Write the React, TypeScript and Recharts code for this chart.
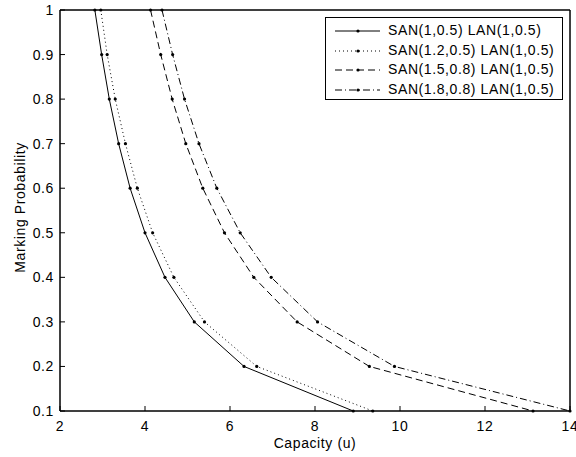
import { Legend, Line, LineChart, ReferenceArea, XAxis, YAxis } from "recharts"

// marking probability levels shared by every curve
const probability = [1.0, 0.9, 0.8, 0.7, 0.6, 0.5, 0.4, 0.3, 0.2, 0.1]

// capacity read for each probability level
const san1Lan1 = [2.82, 2.98, 3.16, 3.38, 3.65, 4.0, 4.47, 5.16, 6.33, 8.9]
const san12Lan1 = [2.96, 3.11, 3.3, 3.54, 3.82, 4.18, 4.68, 5.4, 6.63, 9.36]
const san15Lan1 = [4.13, 4.37, 4.64, 4.96, 5.36, 5.87, 6.56, 7.58, 9.28, 13.13]
const san18Lan1 = [4.4, 4.65, 4.93, 5.27, 5.69, 6.24, 6.97, 8.06, 9.87, 14.0]

const xTicks = [2, 4, 6, 8, 10, 12, 14]
const yTicks = [0.1, 0.2, 0.3, 0.4, 0.5, 0.6, 0.7, 0.8, 0.9, 1]

const toPoints = (xs: number[]) => xs.map((x, i) => ({ x, y: probability[i] }))

const series = [
    { name: "SAN(1,0.5) LAN(1,0.5)", data: toPoints(san1Lan1), dash: undefined },
    { name: "SAN(1.2,0.5) LAN(1,0.5)", data: toPoints(san12Lan1), dash: "1 3" },
    { name: "SAN(1.5,0.8) LAN(1,0.5)", data: toPoints(san15Lan1), dash: "7 4" },
    { name: "SAN(1.8,0.8) LAN(1,0.5)", data: toPoints(san18Lan1), dash: "7 3 1 3" },
]

const font = "'Liberation Sans', Arial, Helvetica, sans-serif"
const fontSize = 14
const spacing = 0.6

const BottomTick = (props: any) => {
    const { x, y, payload } = props
    return (
        <g>
            <line x1={x} y1={y} x2={x} y2={y - 5} stroke="#000" />
            <text x={x} y={y + 20} textAnchor="middle" fontSize={fontSize} fontFamily={font} letterSpacing={spacing} fill="#000">
                {payload.value}
            </text>
        </g>
    )
}

const LeftTick = (props: any) => {
    const { x, y, payload } = props
    return (
        <g>
            <line x1={x} y1={y} x2={x + 5} y2={y} stroke="#000" />
            <text x={x - 6} y={y + 5} textAnchor="end" fontSize={fontSize} fontFamily={font} letterSpacing={spacing} fill="#000">
                {payload.value}
            </text>
        </g>
    )
}

const TopTick = (props: any) => <line x1={props.x} y1={props.y} x2={props.x} y2={props.y + 5} stroke="#000" />

const RightTick = (props: any) => <line x1={props.x} y1={props.y} x2={props.x - 5} y2={props.y} stroke="#000" />

const LegendBox = () => (
    <div
        style={{
            width: 236,
            height: 78,
            border: "1px solid #000",
            background: "#fff",
            fontFamily: font,
            fontSize: fontSize,
            letterSpacing: spacing,
            paddingTop: 3,
            boxSizing: "content-box",
        }}
    >
        {series.map((s) => (
            <div key={s.name} style={{ display: "flex", alignItems: "center", height: 19.5 }}>
                <svg width={62} height={19} style={{ flex: "none" }}>
                    <line x1={9} y1={10} x2={54} y2={10} stroke="#000" strokeDasharray={s.dash} />
                    <circle cx={32} cy={10} r={1.6} fill="#000" />
                </svg>
                <span style={{ lineHeight: "19px", whiteSpace: "nowrap" }}>{s.name}</span>
            </div>
        ))}
    </div>
)

export default function App() {
    return (
        <div style={{ position: "absolute", left: 0, top: 0, background: "#fff" }}>
            <LineChart width={576} height={457} margin={{ top: 9, right: 5, left: 0, bottom: 0 }}>
                <XAxis
                    dataKey="x"
                    type="number"
                    domain={[2, 14]}
                    ticks={xTicks}
                    interval={0}
                    height={46}
                    tickSize={0}
                    tickMargin={0}
                    tickLine={false}
                    tick={BottomTick}
                    axisLine={{ stroke: "#000" }}
                    label={{
                        content: (p: any) => (
                            <text
                                x={p.viewBox.x + p.viewBox.width / 2}
                                y={p.viewBox.y + 37}
                                textAnchor="middle"
                                fontSize={fontSize}
                                fontFamily={font}
                                letterSpacing={spacing}
                                fill="#000"
                            >
                                Capacity (u)
                            </text>
                        ),
                    }}
                />
                <XAxis
                    xAxisId="top"
                    orientation="top"
                    type="number"
                    domain={[2, 14]}
                    ticks={xTicks}
                    interval={0}
                    height={1}
                    tickSize={0}
                    tickMargin={0}
                    tickLine={false}
                    tick={TopTick}
                    axisLine={{ stroke: "#000" }}
                />
                <YAxis
                    type="number"
                    domain={[0.1, 1]}
                    ticks={yTicks}
                    interval={0}
                    width={60}
                    tickSize={0}
                    tickMargin={0}
                    tickLine={false}
                    tick={LeftTick}
                    axisLine={{ stroke: "#000" }}
                    label={{
                        content: (p: any) => {
                            const cy = p.viewBox.y + p.viewBox.height / 2 - 3
                            return (
                                <text
                                    x={25}
                                    y={cy}
                                    transform={`rotate(-90, 25, ${cy})`}
                                    textAnchor="middle"
                                    fontSize={fontSize}
                                    fontFamily={font}
                                    letterSpacing={spacing}
                                    fill="#000"
                                >
                                    Marking Probability
                                </text>
                            )
                        },
                    }}
                />
                <YAxis
                    yAxisId="right"
                    orientation="right"
                    type="number"
                    domain={[0.1, 1]}
                    ticks={yTicks}
                    interval={0}
                    width={1}
                    tickSize={0}
                    tickMargin={0}
                    tickLine={false}
                    tick={RightTick}
                    axisLine={{ stroke: "#000" }}
                />
                <ReferenceArea x1={2} x2={14} y1={0.1} y2={1} fill="none" stroke="#000" strokeWidth={1} ifOverflow="visible" />
                {series.map((s) => (
                    <Line
                        key={s.name}
                        name={s.name}
                        data={s.data}
                        dataKey="y"
                        type="linear"
                        stroke="#000"
                        strokeWidth={1}
                        strokeDasharray={s.dash}
                        dot={{ r: 1.6, fill: "#000", stroke: "none" }}
                        activeDot={false}
                        isAnimationActive={false}
                    />
                ))}
                <Legend
                    layout="horizontal"
                    verticalAlign="middle"
                    align="center"
                    content={LegendBox}
                    wrapperStyle={{ top: 17, left: 325, width: "auto" }}
                />
            </LineChart>
        </div>
    )
}
